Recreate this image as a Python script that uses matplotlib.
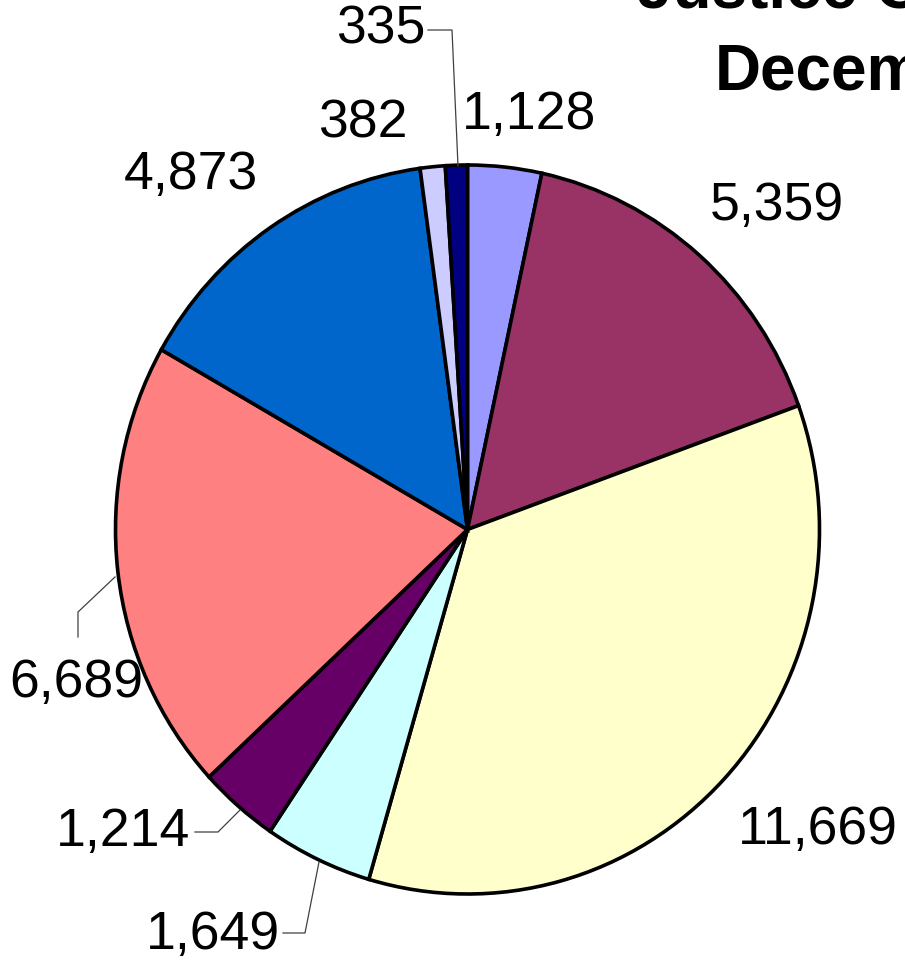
import matplotlib
matplotlib.use('Agg')
import matplotlib.pyplot as plt

plt.rcParams['font.family'] = ['Liberation Sans', 'DejaVu Sans']

values = [1128, 5359, 11669, 1649, 1214, 6689, 4873, 382, 335]
labels = ['1,128', '5,359', '11,669', '1,649', '1,214', '6,689', '4,873', '382', '335']
colors = ['#9999FF', '#993366', '#FFFFCC', '#CCFFFF', '#660066',
          '#FF8080', '#0066CC', '#CCCCFF', '#000080']

W, H = 905, 963
cx, cy = 467.5, 529.5      # pie centre in pixels
rx, ry = 352.0, 364.5      # pie looks slightly stretched vertically


def px(x, y):
    # pixel position (from top-left) -> data coords
    return (x - cx) / rx, (cy - y) / ry


fig = plt.figure(figsize=(W / 100, H / 100), dpi=100)
ax = fig.add_axes([0, 0, 1, 1])
ax.pie(values, colors=colors, startangle=90, counterclock=False,
       wedgeprops=dict(edgecolor='black', linewidth=2.6))
ax.set_aspect('auto')
ax.set_xlim(px(0, 0)[0], px(W, 0)[0])
ax.set_ylim(px(0, H)[1], px(0, 0)[1])
ax.axis('off')

# label positions (pixel centres) and anchor
label_pos = {
    '1,128': (462, 115, 'left'),
    '5,359': (710, 206, 'left'),
    '11,669': (738, 830, 'left'),
    '1,649': (280, 935, 'right'),
    '1,214': (190, 832, 'right'),
    '6,689': (143, 683, 'right'),
    '4,873': (258, 175, 'right'),
    '382': (408, 123, 'right'),
    '335': (425, 30, 'right'),
}
for lab in labels:
    x, y, ha = label_pos[lab]
    ax.text(*px(x, y), lab, ha=ha, va='center', fontsize=38.5, color='black')

# leader lines
leaders = [
    [(428, 30), (452, 30), (458, 166)],
    [(283, 933), (305, 933), (319, 862)],
    [(195, 832), (218, 832), (240, 810)],
    [(78, 637), (78, 612), (115, 577)],
]
for pts in leaders:
    xs, ys = zip(*[px(x, y) for x, y in pts])
    ax.plot(xs, ys, color='#404040', linewidth=0.9)

# title is cut off by the right/top edge in the original
fig.text(637 / W, 1 - 8 / H, 'Justice O', fontsize=46, fontweight='bold',
         ha='left', va='baseline')
fig.text(715 / W, 1 - 89 / H, 'Decem', fontsize=46, fontweight='bold',
         ha='left', va='baseline')

fig.savefig('out.png', dpi=100)
